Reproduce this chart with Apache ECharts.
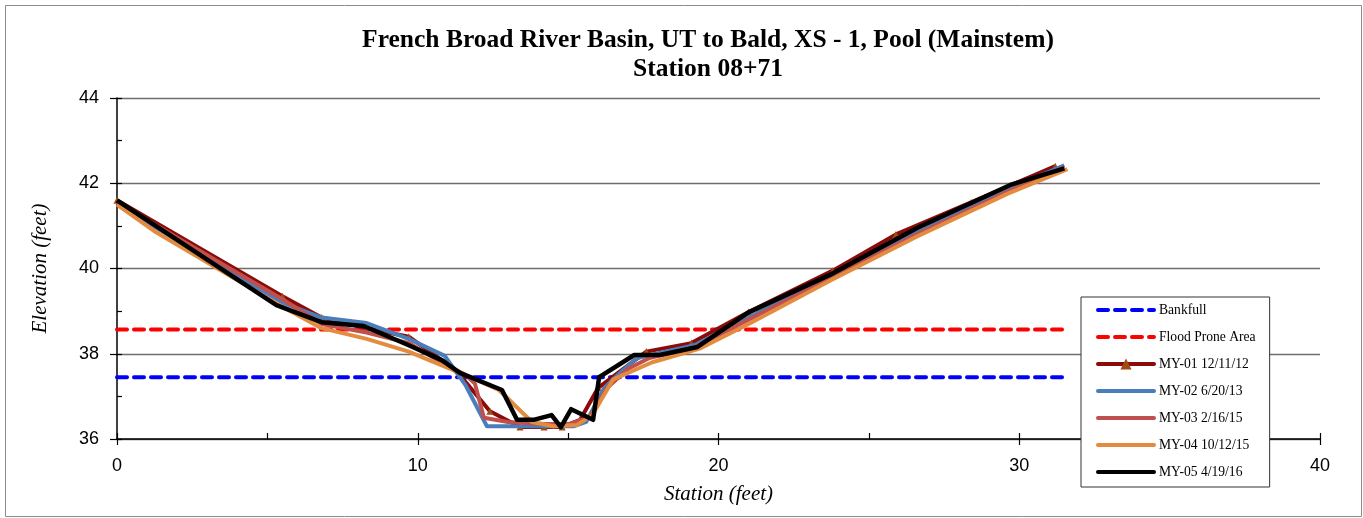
<!DOCTYPE html>
<html>
<head>
<meta charset="utf-8">
<script src="https://cdn.jsdelivr.net/npm/echarts@6/dist/echarts.min.js"></script>
<style>html,body{margin:0;padding:0;background:#fff;}#c{width:1363px;height:518px;}</style>
</head>
<body>
<div id="c"></div>
<script>
var titleLines = ['French Broad River Basin, UT to Bald, XS - 1, Pool (Mainstem)', 'Station 08+71'];
var xTicks = [0, 10, 20, 30, 40];
var yTicks = [36, 38, 40, 42, 44];
var seriesNames = ['Bankfull', 'Flood Prone Area', 'MY-01 12/11/12', 'MY-02 6/20/13', 'MY-03 2/16/15', 'MY-04 10/12/15', 'MY-05 4/19/16'];
var bankfull = [[0, 37.45], [31.5, 37.45]];
var floodProne = [[0, 38.57], [31.5, 38.57]];
var my01 = [[0,41.6],[5.5,39.35],[6.8,38.85],[8.3,38.6],[9.7,38.4],[10.9,37.8],[11.4,37.5],[12.4,36.65],[13.4,36.28],[14.2,36.28],[14.8,36.28],[15.4,36.45],[16.0,37.2],[17.6,38.05],[19.1,38.25],[21.0,38.98],[23.8,39.95],[25.9,40.8],[28.4,41.55],[31.2,42.4]];
var my02 = [[0,41.5],[5.5,39.2],[6.8,38.85],[8.3,38.72],[9.7,38.35],[10.9,37.95],[11.6,37.25],[12.3,36.3],[13.4,36.3],[14.2,36.3],[15.2,36.3],[15.6,36.4],[16.2,37.2],[16.8,37.6],[17.3,37.9],[19.2,38.2],[21.0,38.85],[23.8,39.85],[26.6,40.85],[29.6,41.85],[31.5,42.42]];
var my03 = [[0,41.55],[5.5,39.28],[6.8,38.7],[8.3,38.5],[9.7,38.25],[10.9,37.75],[11.6,37.5],[11.9,37.3],[12.2,36.5],[13.0,36.4],[14.2,36.35],[15.0,36.35],[15.7,36.5],[16.3,37.2],[17.0,37.65],[17.7,37.9],[19.2,38.15],[21.0,38.8],[23.8,39.8],[26.6,40.8],[29.6,41.8],[31.5,42.38]];
var my04 = [[0,41.5],[1.3,40.85],[5.5,39.1],[6.8,38.6],[8.3,38.35],[9.7,38.05],[10.9,37.7],[11.6,37.5],[12.7,37.15],[13.8,36.4],[14.5,36.3],[15.3,36.33],[15.8,36.56],[16.5,37.4],[17.8,37.8],[19.4,38.13],[21.0,38.7],[23.8,39.75],[26.6,40.75],[29.6,41.75],[31.6,42.33]];
var my05 = [[0,41.6],[5.3,39.14],[6.8,38.74],[8.2,38.65],[9.7,38.2],[10.8,37.85],[11.4,37.55],[12.8,37.15],[13.3,36.45],[13.85,36.45],[14.45,36.56],[14.76,36.28],[15.1,36.7],[15.83,36.45],[16.03,37.45],[17.2,37.97],[18.05,37.97],[19.3,38.16],[21.0,38.97],[23.7,39.85],[26.6,40.95],[29.7,41.96],[31.5,42.35]];

var serif = 'Liberation Serif';
var sans = 'Liberation Sans';
var chart = echarts.init(document.getElementById('c'));

function dashSeries(name, data, color) {
  return {
    name: name, type: 'line', data: data, symbol: 'none', z: 1,
    lineStyle: { color: color, width: 4, type: [10, 7], cap: 'round' },
    itemStyle: { color: color }, animation: false
  };
}
function solidSeries(name, data, color, width, z) {
  return {
    name: name, type: 'line', data: data, symbol: 'none', z: z,
    lineStyle: { color: color, width: width, join: 'round' },
    itemStyle: { color: color }, animation: false
  };
}

var s1 = solidSeries(seriesNames[2], my01, '#8B0A0A', 4, 2);
s1.symbol = 'triangle';
s1.symbolSize = 7;
s1.showSymbol = true;
s1.itemStyle = { color: '#A24A12' };

var legendData = seriesNames.map(function (n, i) {
  return i === 2 ? { name: n, itemStyle: { opacity: 1 } } : { name: n, itemStyle: { opacity: 0 } };
});

chart.setOption({
  animation: false,
  backgroundColor: '#fff',
  title: {
    text: titleLines.join('\n'),
    left: 703, top: 21, textAlign: 'center',
    textStyle: { fontFamily: serif, fontWeight: 'bold', fontSize: 25.5, lineHeight: 29, color: '#000' }
  },
  graphic: [{
    type: 'rect', left: 3, top: 3, shape: { width: 1356, height: 511 },
    style: { fill: 'none', stroke: '#8c8c8c', lineWidth: 1 }, silent: true, z: -10
  }],
  grid: { left: 117, right: 43, top: 98, bottom: 79 },
  legend: {
    orient: 'vertical', left: 1081, top: 297,
    padding: [6, 14, 8, 15], itemGap: 13, itemWidth: 56, itemHeight: 14,
    backgroundColor: '#fff', borderColor: '#333', borderWidth: 1,
    lineStyle: { width: 4, cap: 'round' },
    textStyle: { fontFamily: serif, fontSize: 13.6, color: '#000' },
    data: legendData
  },
  xAxis: [{
    type: 'value', min: xTicks[0], max: xTicks[xTicks.length - 1], interval: 10,
    name: 'Station (feet)', nameLocation: 'middle', nameGap: 45,
    nameTextStyle: { fontFamily: serif, fontStyle: 'italic', fontSize: 21, color: '#000' },
    axisLine: { show: true, onZero: false, lineStyle: { color: '#000', width: 1.5 } },
    axisTick: { show: true, length: 6, lineStyle: { color: '#000', width: 1.2 } },
    axisLabel: { margin: 18, fontFamily: sans, fontSize: 18, color: '#000' },
    splitLine: { show: false }
  }, {
    type: 'value', min: 0, max: 40, interval: 5, position: 'bottom',
    axisLine: { show: false }, axisLabel: { show: false }, splitLine: { show: false },
    axisTick: { show: true, inside: true, length: 6, lineStyle: { color: '#000', width: 1.2 } }
  }],
  yAxis: [{
    type: 'value', min: yTicks[0], max: yTicks[yTicks.length - 1], interval: 2,
    name: 'Elevation (feet)', nameLocation: 'middle', nameGap: 66, nameRotate: 90,
    nameTextStyle: { fontFamily: serif, fontStyle: 'italic', fontSize: 21, color: '#000' },
    axisLine: { show: true, onZero: false, lineStyle: { color: '#000', width: 1.5 } },
    axisTick: { show: true, length: 7, lineStyle: { color: '#000', width: 1.2 } },
    axisLabel: { margin: 18, fontFamily: sans, fontSize: 18, color: '#000' },
    splitLine: { show: true, lineStyle: { color: '#6e6e6e', width: 1.3 } }
  }, {
    type: 'value', min: 36, max: 44, interval: 1, position: 'left',
    axisLine: { show: false }, axisLabel: { show: false }, splitLine: { show: false },
    axisTick: { show: true, inside: true, length: 5, lineStyle: { color: '#000', width: 1.2 } }
  }],
  series: [
    dashSeries(seriesNames[0], bankfull, '#0000FF'),
    dashSeries(seriesNames[1], floodProne, '#FF0000'),
    s1,
    solidSeries(seriesNames[3], my02, '#4A7EBB', 4, 3),
    solidSeries(seriesNames[4], my03, '#C0504D', 4, 4),
    solidSeries(seriesNames[5], my04, '#E38B3F', 4, 5),
    solidSeries(seriesNames[6], my05, '#000000', 4.5, 6)
  ]
});
</script>
</body>
</html>
